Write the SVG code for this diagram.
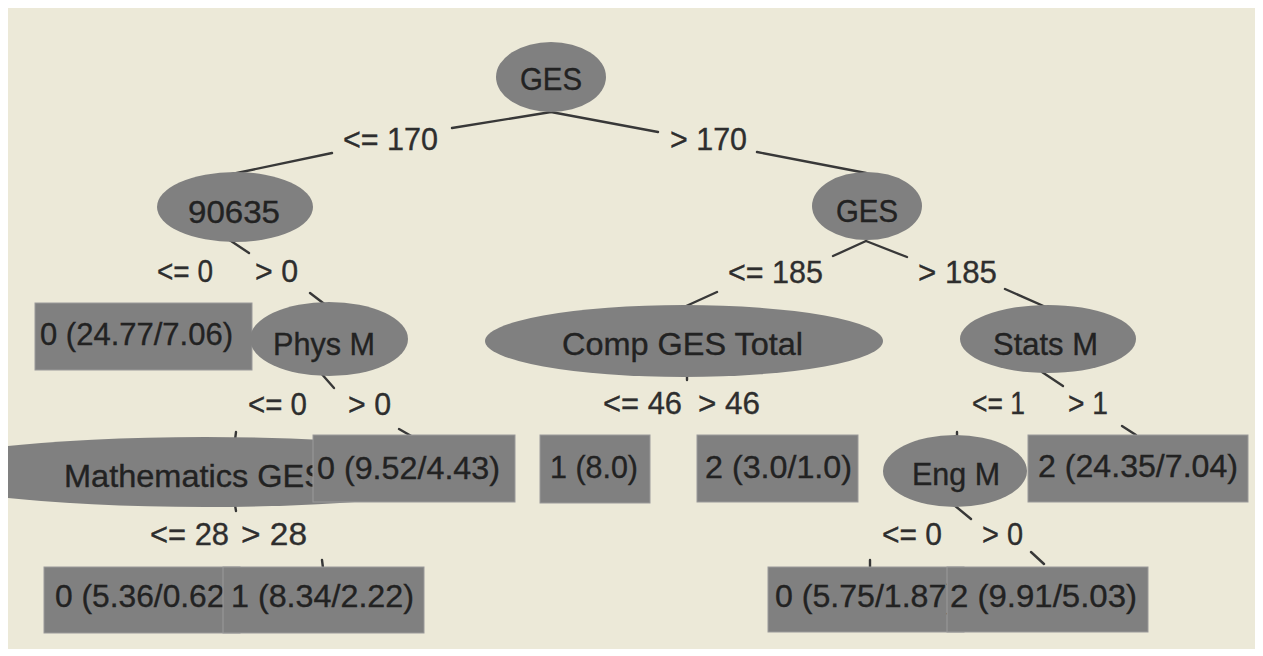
<svg xmlns="http://www.w3.org/2000/svg" width="1263" height="656" viewBox="0 0 1263 656">
  <style>
    .panel { fill: #ECE9D8; }
    .split { fill: #808080; }
    .leaf { fill: #808080; stroke: #9a9a9a; stroke-width: 1; }
    .edge { stroke: #383838; stroke-width: 2.4; fill: none; stroke-linecap: round; }
    text { font-family: "Liberation Sans", Arial, sans-serif; font-size: 31px; fill: #222222; stroke: #222222; stroke-width: 0.35; }
    .cond { fill: #2e2e2e; stroke: #2e2e2e; }
  </style>
  <defs>
    <clipPath id="panel-clip">
      <rect x="8" y="8" width="1247" height="641"/>
    </clipPath>
  </defs>

  <rect width="1263" height="656" fill="#FFFFFF"/>
  <rect class="panel" x="8" y="8" width="1247" height="641"/>

  <!-- connectors: only the stubs left visible around the condition labels -->
  <g id="connectors" clip-path="url(#panel-clip)">
    <path class="edge" d="M551,112 L452,128 M332,153 L232,174"/>
    <path class="edge" d="M551,112 L658,132 M757,152 L866,173"/>
    <path class="edge" d="M228,239 L249,253 M310,293 L327,306"/>
    <path class="edge" d="M320,372 L334,388 M399,429 L413,437"/>
    <path class="edge" d="M236,432 L235,440"/>
    <path class="edge" d="M235,505 L236,511 M322,560 L323,568"/>
    <path class="edge" d="M866,241 L833,256 M717,292 L684,307"/>
    <path class="edge" d="M866,241 L907,257 M1005,289 L1048,308"/>
    <path class="edge" d="M687,374 L687,380"/>
    <path class="edge" d="M1042,372 L1063,386 M1122,426 L1136,435"/>
    <path class="edge" d="M957,432 L957,438"/>
    <path class="edge" d="M954,505 L971,519 M1031,552 L1044,564 M870,560 L870,568"/>

    <g id="edge-labels">
      <text class="cond" x="343" y="150" textLength="95" lengthAdjust="spacingAndGlyphs">&lt;= 170</text>
      <text class="cond" x="670" y="150" textLength="77" lengthAdjust="spacingAndGlyphs">&gt; 170</text>
      <text class="cond" x="157" y="282" textLength="56" lengthAdjust="spacingAndGlyphs">&lt;= 0</text>
      <text class="cond" x="255" y="282" textLength="43" lengthAdjust="spacingAndGlyphs">&gt; 0</text>
      <text class="cond" x="728" y="283" textLength="95" lengthAdjust="spacingAndGlyphs">&lt;= 185</text>
      <text class="cond" x="918" y="283" textLength="79" lengthAdjust="spacingAndGlyphs">&gt; 185</text>
      <text class="cond" x="248" y="415" textLength="59" lengthAdjust="spacingAndGlyphs">&lt;= 0</text>
      <text class="cond" x="348" y="415" textLength="43" lengthAdjust="spacingAndGlyphs">&gt; 0</text>
      <text class="cond" x="603" y="414" textLength="79" lengthAdjust="spacingAndGlyphs">&lt;= 46</text>
      <text class="cond" x="698" y="414" textLength="62" lengthAdjust="spacingAndGlyphs">&gt; 46</text>
      <text class="cond" x="972" y="414" textLength="53" lengthAdjust="spacingAndGlyphs">&lt;= 1</text>
      <text class="cond" x="1068" y="414" textLength="40" lengthAdjust="spacingAndGlyphs">&gt; 1</text>
      <text class="cond" x="150" y="545" textLength="79" lengthAdjust="spacingAndGlyphs">&lt;= 28</text>
      <text class="cond" x="241" y="545" textLength="66" lengthAdjust="spacingAndGlyphs">&gt; 28</text>
      <text class="cond" x="882" y="545" textLength="60" lengthAdjust="spacingAndGlyphs">&lt;= 0</text>
      <text class="cond" x="982" y="545" textLength="41" lengthAdjust="spacingAndGlyphs">&gt; 0</text>
    </g>
  </g>

  <!-- decision nodes and leaves -->
  <g id="node-root">
    <ellipse class="split" cx="551" cy="77" rx="55" ry="35"/>
    <text x="520" y="90" textLength="62" lengthAdjust="spacingAndGlyphs">GES</text>
  </g>

  <g id="node-90635">
    <ellipse class="split" cx="235" cy="207" rx="78" ry="35"/>
    <text x="188" y="223" textLength="92" lengthAdjust="spacingAndGlyphs">90635</text>
  </g>

  <g id="node-ges-2">
    <ellipse class="split" cx="867" cy="206" rx="55" ry="34"/>
    <text x="836" y="222" textLength="62" lengthAdjust="spacingAndGlyphs">GES</text>
  </g>

  <g id="leaf-24-77">
    <rect class="leaf" x="35" y="303" width="217" height="67"/>
    <text x="40" y="345" textLength="193" lengthAdjust="spacingAndGlyphs">0 (24.77/7.06)</text>
  </g>

  <g id="node-phys-m">
    <ellipse class="split" cx="329" cy="339" rx="79" ry="37"/>
    <text x="273" y="355" textLength="102" lengthAdjust="spacingAndGlyphs">Phys M</text>
  </g>

  <g id="node-comp-ges-total">
    <ellipse class="split" cx="684" cy="341" rx="199" ry="36"/>
    <text x="562" y="355" textLength="241" lengthAdjust="spacingAndGlyphs">Comp GES Total</text>
  </g>

  <g id="node-stats-m">
    <ellipse class="split" cx="1048" cy="339" rx="88" ry="34"/>
    <text x="993" y="355" textLength="105" lengthAdjust="spacingAndGlyphs">Stats M</text>
  </g>

  <g id="node-mathematics-ges" clip-path="url(#panel-clip)">
    <ellipse class="split" cx="205" cy="472" rx="295" ry="35"/>
    <text x="64" y="487" textLength="262" lengthAdjust="spacingAndGlyphs">Mathematics GES</text>
  </g>

  <g id="leaf-9-52">
    <rect class="leaf" x="313" y="435" width="202" height="67"/>
    <text x="317" y="479" textLength="183" lengthAdjust="spacingAndGlyphs">0 (9.52/4.43)</text>
  </g>

  <g id="leaf-8-0">
    <rect class="leaf" x="540" y="435" width="110" height="68"/>
    <text x="550" y="478" textLength="88" lengthAdjust="spacingAndGlyphs">1 (8.0)</text>
  </g>

  <g id="leaf-3-0">
    <rect class="leaf" x="697" y="435" width="161" height="67"/>
    <text x="705" y="478" textLength="147" lengthAdjust="spacingAndGlyphs">2 (3.0/1.0)</text>
  </g>

  <g id="node-eng-m">
    <ellipse class="split" cx="955" cy="471" rx="72" ry="36"/>
    <text x="912" y="485" textLength="88" lengthAdjust="spacingAndGlyphs">Eng M</text>
  </g>

  <g id="leaf-24-35">
    <rect class="leaf" x="1028" y="435" width="220" height="67"/>
    <text x="1038" y="477" textLength="200" lengthAdjust="spacingAndGlyphs">2 (24.35/7.04)</text>
  </g>

  <g id="leaf-5-36">
    <rect class="leaf" x="44" y="567" width="196" height="66"/>
    <text x="55" y="607" textLength="180" lengthAdjust="spacingAndGlyphs">0 (5.36/0.62)</text>
  </g>

  <g id="leaf-8-34">
    <rect class="leaf" x="223" y="567" width="201" height="66"/>
    <text x="231" y="607" textLength="183" lengthAdjust="spacingAndGlyphs">1 (8.34/2.22)</text>
  </g>

  <g id="leaf-5-75">
    <rect class="leaf" x="768" y="567" width="196" height="65"/>
    <text x="775" y="607" textLength="182" lengthAdjust="spacingAndGlyphs">0 (5.75/1.87)</text>
  </g>

  <g id="leaf-9-91">
    <rect class="leaf" x="947" y="567" width="201" height="65"/>
    <text x="950" y="607" textLength="187" lengthAdjust="spacingAndGlyphs">2 (9.91/5.03)</text>
  </g>
</svg>
